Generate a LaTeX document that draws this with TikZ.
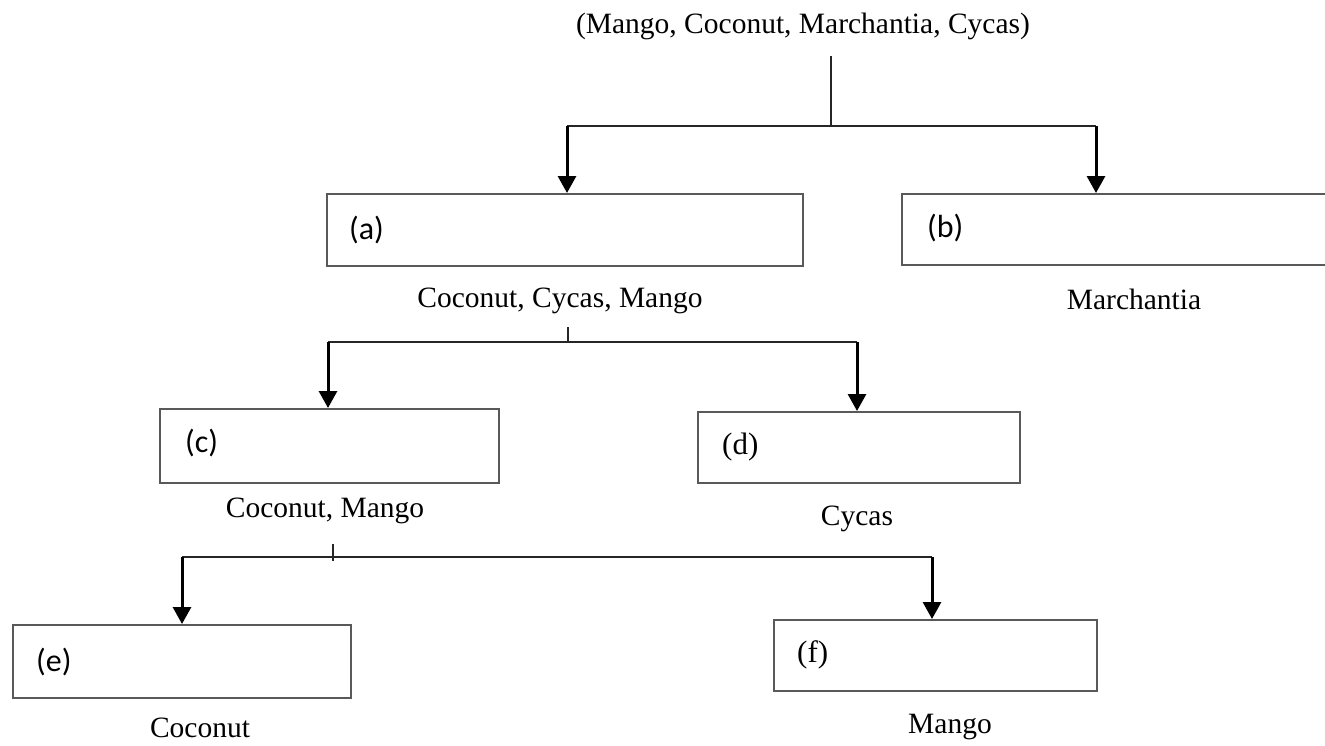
\documentclass[tikz,border=0pt]{standalone}
\usepackage{fontspec}
\setmainfont{Liberation Serif}
\newfontfamily\carlito{Carlito}
\usetikzlibrary{arrows.meta}
\begin{document}
\begin{tikzpicture}[x=1pt,y=-1pt,
  box/.style={draw=black!65, line width=2.2pt, inner sep=0pt, anchor=north west, fill=none},
  barline/.style={draw=black!85, line width=2pt},
  arr/.style={draw=black, line width=3pt, -{Triangle[width=18pt,length=17pt]}},
  txt/.style={font=\fontsize{29.5}{34}\selectfont, inner sep=0pt, anchor=base},
  labs/.style={font=\carlito\fontsize{32}{36}\selectfont, inner sep=0pt, anchor=west},
  labr/.style={font=\fontsize{31}{36}\selectfont, inner sep=0pt, anchor=west}
]
\useasboundingbox (0,0) rectangle (1325,745);
\clip (0,0) rectangle (1325,745);

% boxes
\node[box, minimum width=476pt, minimum height=72pt] (a) at (326,193) {};
\node[box, minimum width=460pt, minimum height=71pt] (b) at (901,193) {};
\node[box, minimum width=339pt, minimum height=74pt] (c) at (159,408) {};
\node[box, minimum width=322pt, minimum height=71pt] (d) at (697,411) {};
\node[box, minimum width=338pt, minimum height=73pt] (e) at (12,624) {};
\node[box, minimum width=323pt, minimum height=71pt] (f) at (773,619) {};

% labels in boxes
\node[labs] (la) at (349,230) {(a)};
\node[labs] (lb) at (927,228) {(b)};
\node[labs] (lc) at (185,443) {(c)};
\node[labr] (ld) at (722,447) {(d)};
\node[labs] (le) at (36,662) {(e)};
\node[labr] (lf) at (797,655) {(f)};

% texts
\node[txt] (title) at (803,33) {(Mango, Coconut, Marchantia, Cycas)};
\node[txt] (ta) at (560,307) {Coconut, Cycas, Mango};
\node[txt] (tb) at (1134,309) {Marchantia};
\node[txt] (tc) at (325,517) {Coconut, Mango};
\node[txt] (td) at (857,525) {Cycas};
\node[txt] (te) at (200,737) {Coconut};
\node[txt] (tf) at (950,733) {Mango};

% connector coordinates
\coordinate (c1top) at (831,56);
\coordinate (j1) at (831,126);
\coordinate (j1L) at (567,126);
\coordinate (j1R) at (1096,126);
\coordinate (c2top) at (568,327);
\coordinate (j2) at (568,342);
\coordinate (j2L) at (328,342);
\coordinate (j2R) at (857,342);
\coordinate (c3top) at (333,544);
\coordinate (c3bot) at (333,561);
\coordinate (j3L) at (182,557);
\coordinate (j3R) at (932,557);

% level 1
\draw[barline] (c1top) -- (j1);
\draw[barline] (j1L) -- (j1R);
\draw[arr] (j1L) -- (j1L |- a.north);
\draw[arr] (j1R) -- (j1R |- b.north);

% level 2
\draw[barline] (c2top) -- (j2);
\draw[barline] (j2L) -- (j2R);
\draw[arr] (j2L) -- (j2L |- c.north);
\draw[arr] (j2R) -- (j2R |- d.north);

% level 3
\draw[barline] (c3top) -- (c3bot);
\draw[barline] (j3L) -- (j3R);
\draw[arr] (j3L) -- (j3L |- e.north);
\draw[arr] (j3R) -- (j3R |- f.north);
\end{tikzpicture}
\end{document}
